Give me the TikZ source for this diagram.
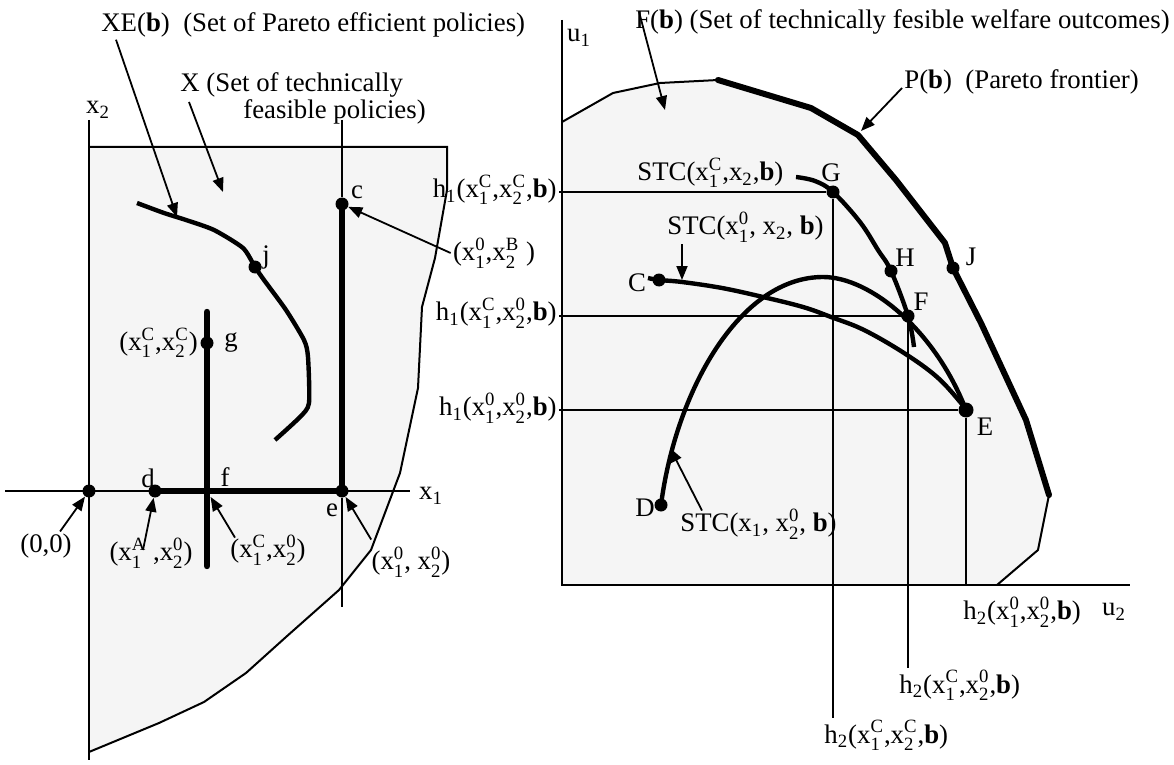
\documentclass[tikz,border=0pt]{standalone}
\usepackage{amsmath}
\usepackage{fontspec}
\setmainfont{Liberation Serif}
\usepackage{tikz}
\usetikzlibrary{arrows.meta, positioning, calc}
\definecolor{feasible}{HTML}{F5F5F5}

\newcommand{\xv}[2]{x$_{\text{#1}}^{\text{#2}}$}
\newcommand{\xsub}[1]{x$_{\text{#1}}$}
\newcommand{\hv}[1]{h$_{\text{#1}}$}

\begin{document}
\begin{tikzpicture}[
    x=0.5pt, y=-0.5pt,
    lbl/.style={font=\fontsize{13.4}{13.5}\selectfont, inner sep=1pt},
    dot/.style={circle, fill=black, inner sep=0pt, minimum size=6.5pt},
    bigdot/.style={dot, minimum size=7.5pt},
    thinline/.style={line width=1pt},
    axis/.style={line width=1.3pt},
    heavy/.style={line width=3.2pt},
    curve/.style={line width=2.2pt, line join=round},
    frontier/.style={line width=3pt, line join=round, line cap=round},
    arrow/.style={-{Triangle[length=7pt, width=5.5pt]}, line width=0.9pt}
  ]
  \useasboundingbox (0,0) rectangle (1174,765);

  % policy space
  \fill[feasible] (89,147) -- (447,147) -- (447,190) -- (435,258) -- (422,307) -- (418,388)
    -- (400,473) -- (371,550) -- (339,590) -- (286,637) -- (246,673) -- (204,702)
    -- (159,723) -- (89,752) -- cycle;
  \draw[thinline] (89,147) -- (447,147) -- (447,190) -- (435,258) -- (422,307) -- (418,388)
    -- (400,473) -- (371,550) -- (339,590) -- (286,637) -- (246,673) -- (204,702)
    -- (159,723) -- (89,752);

  \coordinate (x2top) at (89,120);
  \coordinate (x2bot) at (89,760);
  \coordinate (x1left) at (5,491);
  \coordinate (x1right) at (410,491);
  \draw[axis] (x2top) -- (x2bot);
  \draw[axis] (x1left) -- (x1right);
  \node[lbl] (x2lbl) at (98,110) {\xsub{2}};
  \node[lbl] (x1lbl) at (431,496) {\xsub{1}};

  \node[dot] (o) at (89,491) {};
  \node[dot] (d) at (155,491) {};
  \node[circle, inner sep=0pt, minimum size=6.5pt] (f) at (207,491) {};
  \node[dot] (e) at (342,491) {};
  \node[dot] (c) at (342,204) {};
  \node[dot] (g) at (207,343) {};
  \node[dot] (j) at (255,267) {};
  \coordinate (ctop) at (342,120);
  \coordinate (ebot) at (342,607);
  \coordinate (gtop) at (207,312);
  \coordinate (gbot) at (207,566);

  \draw[thinline] (ctop) -- (c);
  \draw[thinline] (e) -- (ebot);
  \draw[heavy] (d.center) -- (e.center) -- (c.center);
  \draw[heavy, line cap=round] (gtop) -- (gbot);

  % Pareto efficient policies
  \draw[curve] plot[smooth, tension=0.4] coordinates {(137,203) (164,213) (186,220) (214,230)
    (243,248) (255,267) (264,280) (286,310) (304,340) (308,357) (309,403) (300,417) (275,440)};

  \node[lbl] (dlbl) at (148,478) {d};
  \node[lbl] (flbl) at (225,477) {f};
  \node[lbl] (elbl) at (332,510) {e};
  \node[lbl] (clbl) at (357,192) {c};
  \node[lbl] (jlbl) at (266,257) {j};
  \node[lbl, right=4pt of g] (glbl) {g};
  \node[lbl, left=0pt of g] (gpt) {(\xv{1}{C},\xv{2}{C})};

  \node[lbl, anchor=west] (xelbl) at (99,25) {XE(\textbf{b})~~(Set of Pareto efficient policies)};
  \node[lbl, align=left, anchor=north west] (xlbl) at (178,70)
    {X (Set of technically\\\hspace*{31.5pt}feasible policies)};
  \coordinate (xetip) at (177,217);
  \coordinate (xtip) at (223,192);
  \draw[arrow] ([xshift=8.5pt]xelbl.south west) -- (xetip);
  \draw[arrow] ($(xlbl.north west)+(11,32)$) -- (xtip);

  \node[lbl] (olbl) at (46,546) {(0,0)};
  \node[lbl] (dpt) at (151,553) {(\xv{1}{A}~,\xv{2}{0})};
  \node[lbl] (fpt) at (268,550) {(\xv{1}{C},\xv{2}{0})};
  \node[lbl] (ept) at (411,562) {(\xv{1}{0}, \xv{2}{0})};
  \node[lbl] (cpt) at (494,253) {(\xv{1}{0},\xv{2}{B}~)};
  \draw[arrow] ([xshift=-7pt]olbl.north east) -- (o);
  \draw[arrow] ($(dpt.center)+(-8,-3)$) -- (d);
  \draw[arrow] ($(fpt.north west)+(7,5)$) -- (f);
  \draw[arrow] ($(ept.north west)+(2,-5)$) -- (e);
  \draw[arrow] (cpt.west) -- (c);

  % welfare space
  \coordinate (uo) at (562,585);
  \coordinate (u1top) at (562,20);
  \coordinate (u2end) at (1130,585);
  \fill[feasible] (562,122) -- (613,93) -- (660,83) -- (718,80) -- (811,108) -- (858,135)
    -- (896,180) -- (945,243) -- (953,268) -- (981,323) -- (1026,420) -- (1049,495)
    -- (1038,550) -- (997,585) -- (uo) -- cycle;
  \draw[thinline] (562,122) -- (613,93) -- (660,83) -- (718,80);
  \draw[thinline] (1049,495) -- (1038,550) -- (997,585);
  \draw[frontier] (718,80) -- (811,108) -- (858,135) -- (896,180) -- (945,243) -- (953,268)
    -- (981,323) -- (1026,420) -- (1049,495);
  \draw[axis] (u1top) -- (uo) -- (u2end);
  \node[lbl] (u1lbl) at (579,38) {u$_{\text{1}}$};

  \node[dot] (G) at (833,192) {};
  \node[dot] (H) at (891,271) {};
  \node[dot] (F) at (908,316) {};
  \node[bigdot] (E) at (966,410) {};
  \node[dot] (J) at (953,268) {};
  \node[dot] (C) at (659,280) {};
  \node[dot] (D) at (661,505) {};

  \node[lbl, anchor=east] (h1cc) at (559,190) {\hv{1}(\xv{1}{C},\xv{2}{C},\textbf{b})};
  \node[lbl, anchor=east] (h1c0) at (559,313) {\hv{1}(\xv{1}{C},\xv{2}{0},\textbf{b})};
  \node[lbl, anchor=east] (h100) at (559,408) {\hv{1}(\xv{1}{0},\xv{2}{0},\textbf{b})};
  \draw[thinline] (h1cc.east |- G) -- (G);
  \draw[thinline] (h1c0.east |- F) -- (F);
  \draw[thinline] (h100.east |- E) -- (E);

  \node[lbl, anchor=north west] (h2cc) at (822,718) {\hv{2}(\xv{1}{C},\xv{2}{C},\textbf{b})};
  \node[lbl, anchor=north west] (h2c0) at (897,668) {\hv{2}(\xv{1}{C},\xv{2}{0},\textbf{b})};
  \node[lbl, anchor=west] (h200) at (961,612) {\hv{2}(\xv{1}{0},\xv{2}{0},\textbf{b})};
  \node[lbl] (u2lbl) at (1114,612) {u$_{\text{2}}$};
  \draw[thinline] (G) -- (G |- h2cc.north);
  \draw[thinline] (F) -- (F |- h2c0.north);
  \draw[thinline] (E) -- (E |- uo);

  % state transformation curves
  \draw[curve] plot[smooth, tension=0.6] coordinates {(796,177) (815,181) (833,192) (860,222)
    (878,250) (891,271) (908,316) (914,347)};
  \draw[curve] plot[smooth, tension=0.6] coordinates {(648,278) (659,280) (682,282) (722,288)
    (763,297) (803,307) (831,317) (864,330) (904,353) (937,377) (961,403) (966,411)};
  \coordinate (archtop) at (823,277);
  \draw[curve] (D.center) .. controls (676,390) and (740,277) .. (archtop)
    .. controls (870,277) and (935,330) .. (E.center);

  \node[lbl] (Clbl) at (637,283) {C};
  \node[lbl] (Dlbl) at (645,508) {D};
  \node[lbl] (Elbl) at (985,427) {E};
  \node[lbl] (Flbl) at (921,302) {F};
  \node[lbl] (Glbl) at (831,173) {G};
  \node[lbl] (Hlbl) at (905,258) {H};
  \node[lbl] (Jlbl) at (971,257) {J};

  \node[lbl, anchor=east] (Fb) at (1172,22) {F(\textbf{b})~(Set of technically fesible welfare outcomes)};
  \node[lbl, anchor=west] (Pb) at (902,82) {P(\textbf{b})~~(Pareto frontier)};
  \coordinate (fbtip) at (665,110);
  \coordinate (pbtip) at (861,131);
  \draw[arrow] ($(Fb.north west)+(6,4)$) -- (fbtip);
  \draw[arrow] ([yshift=-3pt]Pb.west) -- (pbtip);

  \node[lbl, anchor=west] (stcC) at (635,173) {STC(\xv{1}{C},\xsub{2},\textbf{b})};
  \node[lbl, anchor=west] (stc0) at (665,227) {STC(\xv{1}{0}, \xsub{2}, \textbf{b})};
  \node[lbl, anchor=west] (stcx) at (678,524) {STC(\xsub{1}, \xv{2}{0}, \textbf{b})};
  \coordinate (stctip) at (682,280);
  \coordinate (archtip) at (670,448);
  \draw[arrow] (stctip |- stc0.south) -- (stctip);
  \draw[arrow] ($(stcx.north west)+(24,4)$) -- (archtip);
\end{tikzpicture}
\end{document}
